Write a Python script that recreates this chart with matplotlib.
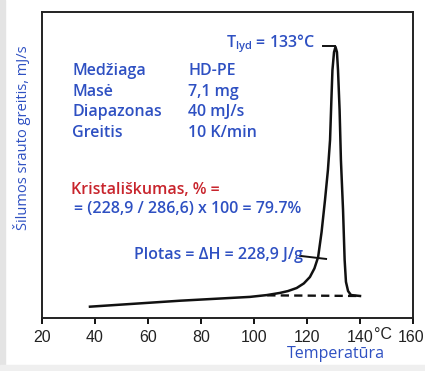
import numpy as np
import matplotlib
matplotlib.use('Agg')
import matplotlib.pyplot as plt
import matplotlib.transforms as mtransforms
from matplotlib.patches import Rectangle

# DSC curve of HD-PE (arbitrary heat-flow units)
temp = [38.1, 72.1, 98.5, 104.9, 109.8, 112.8, 116.1, 118.8, 121.1, 122.8, 124.2, 125.5,
        126.8, 127.9, 128.7, 129.2, 129.6, 130.2, 130.75, 131.3, 131.7, 132.3,
        132.8, 133.6, 134.2, 134.7, 135.5, 136.6, 140.0]
heat = [3.7, 5.65, 6.9, 7.5, 8.2, 8.8, 9.8, 11.3, 13.4, 16.2, 19.9, 28.1,
        38.6, 48.4, 58.2, 71.2, 81.0, 86.9, 88.6, 86.9, 81.0, 68.0,
        51.6, 35.3, 19.0, 11.8, 8.8, 7.5, 7.2]
base_temp = [105, 140]
base_heat = [7.4, 7.2]

xticks = [20, 40, 60, 80, 100, 120, 140, 160]

info_names = ['Medžiaga', 'Masė', 'Diapazonas', 'Greitis']
info_vals = ['HD-PE', '7,1 mg', '40 mJ/s', '10 K/min']

blue = '#2e50c2'
red = '#c8242c'
W, H = 425, 371

fig = plt.figure(figsize=(4.25, 3.71), dpi=100)
fig.patches.append(Rectangle((0, 0), 5 / W, 1, transform=fig.transFigure,
                             color='#e4e4e4', zorder=0))
fig.patches.append(Rectangle((0, 0), 1, 6 / H, transform=fig.transFigure,
                             color='#efefef', zorder=0))

ax = fig.add_axes([42 / W, 1 - 318 / H, 371 / W, 306 / H])
ax.plot(temp, heat, color='#111111', lw=1.8, solid_joinstyle='round')
ax.plot(base_temp, base_heat, color='#111111', lw=1.7, ls=(0, (3.5, 2.2)))
ax.set_xlim(20, 160)
ax.set_ylim(0, 100)
ax.set_yticks([])
ax.set_xticks(xticks)
tick_font = dict(family=['Liberation Sans', 'DejaVu Sans'], fontsize=11.5, color='#222222')
ax.set_xticklabels([str(t) for t in xticks], **tick_font)
ax.tick_params(axis='x', direction='out', length=4, width=1.3, pad=5)
for s in ax.spines.values():
    s.set_linewidth(1.4)
    s.set_color('#222222')

# keep "160" inside the picture
last = ax.get_xticklabels()[-1]
last.set_transform(last.get_transform() +
                   mtransforms.ScaledTranslation(-2 / 100, 0, fig.dpi_scale_trans))

# leader lines
ax.plot([126.0, 130.5], [88.9, 88.9], color='#111111', lw=1.4)
ax.plot([117.4, 127.2], [20.3, 19.3], color='#111111', lw=1.4)

tf = dict(family=['Open Sans', 'DejaVu Sans'], fontweight='semibold', fontsize=11.5)

def px(x, y):
    return x / W, 1 - y / H

fig.text(*px(374, 327), '°C', ha='left', va='top', **tick_font)
fig.text(*px(315, 44), r'T$_{\mathregular{lyd}}$ = 133°C', ha='right', va='center',
         color=blue, **tf)
for i, (n, v) in enumerate(zip(info_names, info_vals)):
    yy = 71 + i * 20.7
    fig.text(*px(72, yy), n, ha='left', va='center', color=blue, **tf)
    fig.text(*px(188, yy), v, ha='left', va='center', color=blue, **tf)
fig.text(*px(71, 190), 'Kristališkumas, % =', ha='left', va='center', color=red, **tf)
fig.text(*px(74, 209), '= (228,9 / 286,6) x 100 = 79.7%', ha='left', va='center',
         color=blue, **tf)
fig.text(*px(134, 255), 'Plotas = ΔH = 228,9 J/g', ha='left', va='center', color=blue, **tf)
fig.text(*px(336, 354), 'Temperatūra', ha='center', va='center', color=blue,
         family=['Open Sans', 'DejaVu Sans'], fontsize=11.5)
fig.text(*px(22, 138), 'Šilumos srauto greitis, mJ/s', ha='center', va='center',
         rotation=90, color=blue, family=['Open Sans', 'DejaVu Sans'], fontsize=10.5)

fig.savefig('out.png', dpi=100)
